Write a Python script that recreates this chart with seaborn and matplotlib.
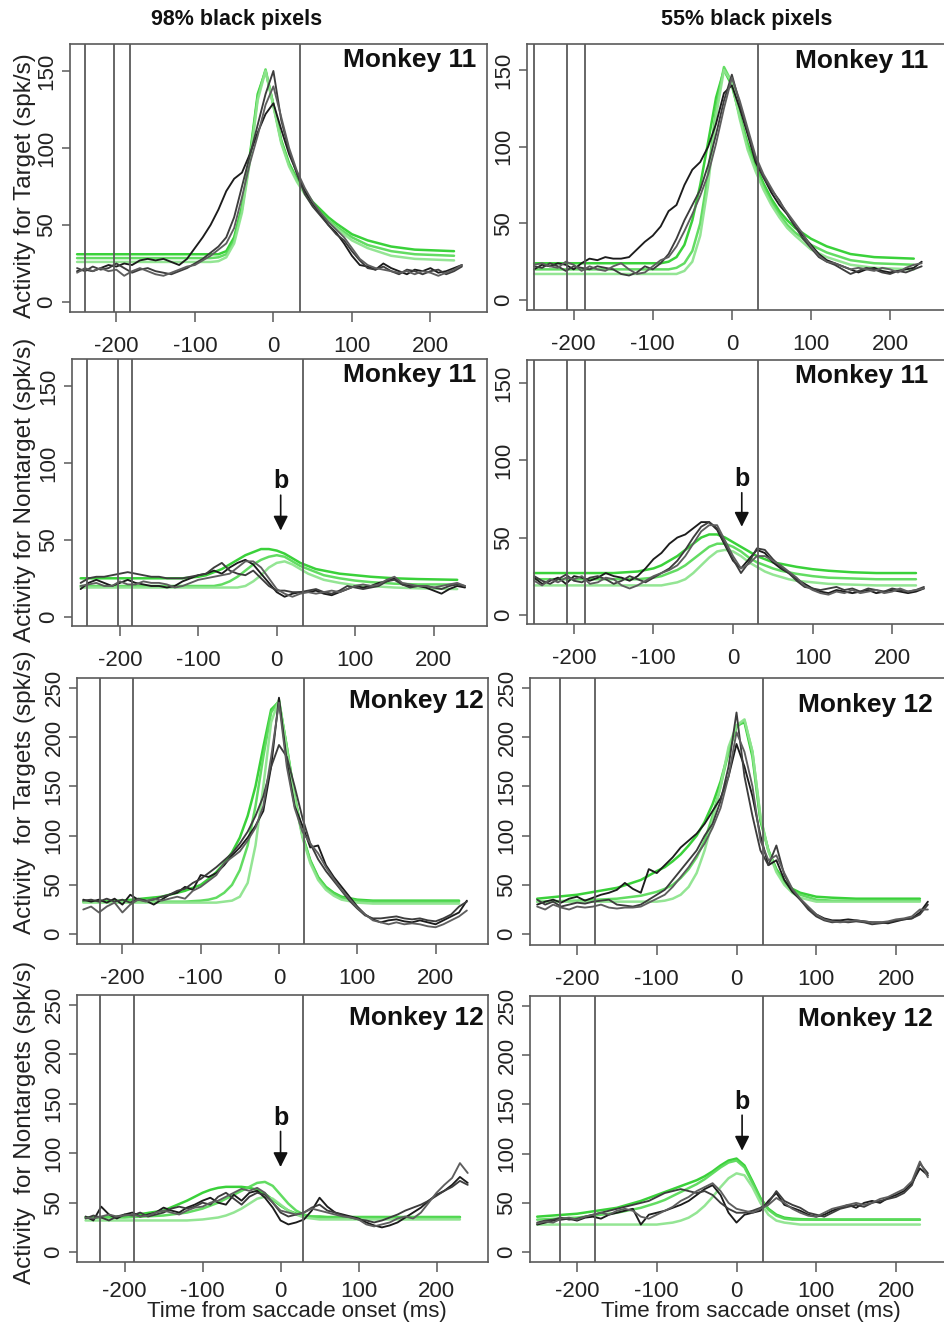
import matplotlib
matplotlib.use("Agg")
import matplotlib.pyplot as plt
import seaborn as sns

sns.set_theme(style="white")
plt.rcParams["font.family"] = ["Liberation Sans", "DejaVu Sans"]
plt.rcParams["axes.unicode_minus"] = False

# ---------------- data ----------------
time_ms = list(range(-250, 250, 10))          # black traces (50 samples)
fit_ms = [-250, -200, -150, -120, -100, -90, -80, -70, -60, -50, -40, -30, -20, -10,
          0, 10, 20, 30, 40, 50, 60, 70, 80, 100, 120, 150, 180, 230]   # green fits

col_titles = ["98% black pixels", "55% black pixels"]
row_ylabels = ["Activity for Target (spk/s)", "Activity for Nontarget (spk/s)",
               "Activity  for Targets (spk/s)", "Activity  for Nontargets (spk/s)"]
row_monkeys = ["Monkey 11", "Monkey 11", "Monkey 12", "Monkey 12"]
xlabel_text = "Time from saccade onset (ms)"
x_ticks = [-200, -100, 0, 100, 200]
y_ticks_m11 = [0, 50, 100, 150]
y_ticks_m12 = [0, 50, 100, 150, 200, 250]

# Panel A: Target, Monkey 11, 98%
a_t1 = [20,21,20,22,24,23,25,24,27,28, 27,28,26,24,28,35,42,50,60,72,
        80,84,96,110,122,129,112,96,84,72, 64,57,50,45,38,30,24,23,21,25,
        22,20,18,21,20,22,19,20,22,24]
a_t2 = [22,20,23,21,22,25,22,19,21,22, 20,19,18,20,22,25,28,32,36,42,
        55,75,95,115,135,150,118,98,83,70, 62,56,50,44,40,33,27,22,21,23,
        20,18,21,20,18,20,21,18,20,23]
a_t3 = [19,22,20,22,20,21,17,20,22,20, 18,17,19,21,23,24,27,30,34,38,
        48,68,90,108,128,140,120,100,85,74, 65,58,52,47,42,35,28,24,22,21,
        20,19,20,18,20,19,17,19,21,24]
a_g1 = [31,31,31,31,31,31,31,31,33,42,62,95,135,150,128,105,90,80,72,65,60,55,51,44,40,36,34,33]
a_g2 = [28.5]*7 + [29,31,40,60,93,133,151,128,104,89,79,71,64,58,53,49,42,37,33,31,30]
a_g3 = [26]*7 + [26.5,29,38,58,91,131,150,127,103,88,78,70,63,57,52,48,40,35,30,28,27]
a_vlines = [-240, -203, -182, 34]

# Panel B: Target, Monkey 11, 55%
b_t1 = [20,23,22,24,23,20,24,27,26,28, 27,27,28,33,38,42,48,58,62,75,
        85,90,100,115,135,140,125,108,90,80, 70,62,56,48,42,36,30,26,24,22,
        20,18,20,21,19,18,19,20,21,25]
b_t2 = [22,21,24,22,19,22,21,20,22,21, 20,17,16,18,22,20,24,30,40,52,
        62,72,88,108,130,147,128,110,92,80, 72,65,56,48,40,34,28,25,23,20,
        17,19,21,20,18,17,19,18,20,22]
b_t3 = [23,24,22,21,25,23,19,22,20,19, 22,24,20,17,18,22,26,28,35,45,
        56,68,82,102,125,145,130,112,94,82, 73,64,57,50,43,35,29,25,24,22,
        20,21,20,19,21,20,18,21,23,24]
b_g1 = [24]*6 + [25,28,36,52,75,103,132,150,140,120,102,88,76,66,58,52,47,40,35,30,28,27]
b_g2 = [20]*7 + [21,24,32,50,82,125,152,142,120,100,86,74,64,56,49,44,36,31,26,24,23]
b_g3 = [17]*8 + [19,25,42,75,120,150,142,118,98,84,72,62,54,47,42,33,28,23,21,20]
b_vlines = [-250, -209, -186, 33]

# Panel C: Nontarget, Monkey 11, 98%
c_t1 = [18,22,24,22,20,22,24,22,21,20, 20,19,20,23,25,27,28,30,28,32,
        35,37,34,28,22,16,13,15,16,16, 17,15,14,16,18,20,19,20,22,23,
        25,21,20,20,19,17,15,18,20,19]
c_t2 = [22,25,26,26,27,28,29,28,27,26, 26,25,25,25,26,27,28,32,35,30,
        28,27,30,25,20,17,17,16,16,17, 18,16,15,17,20,19,18,19,20,23,
        24,21,19,20,20,19,18,20,21,20]
c_t3 = [20,21,22,20,20,23,21,21,23,22, 22,21,19,20,22,24,25,26,27,28,
        32,36,36,32,25,18,15,13,15,16, 15,16,17,16,18,20,21,20,21,24,
        26,22,21,20,20,19,20,21,22,20]
c_g1 = [25]*4 + [26,27,29,31,34,37,40,42,44,44,43,41,38,35,33,31,30,29,28,27,26,25,24.5,24]
c_g2 = [20]*7 + [21,23,26,30,34,37,39,40,39,36,33,31,29,27,26,25,23.5,22.5,21.5,21,21]
c_g3 = [19]*10 + [20,23,27,32,35,36,34,31,28,26,24,23,22,20.5,20,19,18.5,18]
c_vlines = [-242, -202, -184, 33]

# Panel D: Nontarget, Monkey 11, 55%
d_t1 = [24,20,22,24,20,25,24,22,24,27, 25,24,22,25,30,36,40,46,50,52,
        56,60,60,55,45,35,30,36,42,40, 34,30,27,23,20,17,15,14,16,15,
        14,15,16,14,15,16,15,14,15,17]
d_t2 = [25,22,20,23,26,22,21,24,25,23, 20,22,25,23,21,24,27,30,35,42,
        50,57,60,56,46,36,27,34,43,42, 36,31,27,22,18,17,16,17,18,16,
        17,15,17,16,15,17,16,15,16,18]
d_t3 = [22,19,23,21,24,23,25,20,21,24, 23,19,17,19,22,25,27,29,32,38,
        46,54,58,58,48,38,30,33,38,38, 35,32,28,24,19,16,14,13,15,14,
        16,14,15,16,14,15,17,15,16,17]
d_g1 = [27]*3 + [28,30,32,35,38,42,46,50,52,52,50,47,44,41,38,36,34,33,32,31,29.5,28.5,27.5,27,27]
d_g2 = [23]*4 + [24,25,27,29,32,36,40,44,46,46,44,41,37,34,32,30,28.5,27.5,26.5,25,24,23.5,23,23]
d_g3 = [19]*6 + [20,21,23,27,32,37,41,42,41,38,34,31,28,26,24.5,23,22,21,20,19.5,19,19]
d_vlines = [-250, -209, -186, 32]

# Panel E: Targets, Monkey 12, 98%
e_t1 = [35,33,35,32,36,30,40,35,34,30, 35,40,42,48,45,60,58,62,70,80,
        88,98,110,125,170,240,175,130,110,88, 90,70,58,48,38,28,20,15,12,14,
        15,13,12,14,12,10,14,18,22,34]
e_t2 = [34,35,33,36,33,35,32,36,34,35, 38,40,44,46,52,56,62,68,75,82,
        92,104,120,140,170,192,180,150,118,92, 76,64,54,44,34,26,19,16,16,17,
        18,16,15,16,14,13,16,20,28,33]
e_t3 = [25,28,22,28,32,22,30,35,33,36, 34,36,38,36,44,48,54,60,72,78,
        84,95,108,130,180,235,170,128,104,92, 82,68,56,45,36,27,20,14,12,10,
        12,10,11,10,8,7,10,14,18,24]
e_g1 = [33,34,38,44,50,56,63,72,83,98,120,150,190,228,236,190,140,100,75,58,48,42,38,35,34,34,34,34]
e_g2 = [33,33,33,33,34,35,37,42,50,65,90,130,180,225,237,190,140,100,74,57,47,41,37,34,33,33,33,33]
e_g3 = [32,32,32,32,32,32,32,33,34,38,52,90,150,215,238,188,138,98,72,55,45,39,35,32,31,31,31,31]
e_vlines = [-229, -186, 32]

# Panel F: Targets, Monkey 12, 55%
f_t1 = [30,33,35,32,36,38,34,37,40,42, 45,52,46,42,66,62,70,78,88,95,
        102,112,125,138,160,193,170,140,100,70, 75,55,43,35,27,20,16,14,14,15,
        14,13,12,12,11,13,15,16,22,33]
f_t2 = [35,30,33,28,30,32,31,33,34,35, 30,29,28,30,35,40,45,55,65,75,
        85,100,112,135,170,225,160,120,85,70, 90,60,45,35,25,18,14,12,13,12,
        13,12,10,11,12,14,15,16,20,30]
f_t3 = [28,25,30,27,25,28,27,28,30,27, 26,27,27,28,32,36,40,48,58,68,
        80,92,108,128,160,205,185,150,95,75, 80,62,46,36,28,20,15,13,12,13,
        14,13,12,12,13,15,16,18,25,25]
f_g1 = [36,40,47,55,64,68,74,81,90,100,114,132,155,185,212,215,180,115,85,66,54,46,42,38,37,36,36,36]
f_g2 = [33,34,36,39,43,46,50,57,66,78,95,120,150,185,210,217,185,118,85,65,52,44,40,35,34,34,34,34]
f_g3 = [33,33,33,33,33,34,36,40,48,62,85,115,150,190,212,218,185,120,84,63,50,42,37,33,33,33,33,33]
f_vlines = [-222, -178, 33]

# Panel G: Nontargets, Monkey 12, 98%
g_t1 = [36,32,46,38,34,38,40,36,38,40, 45,42,40,45,48,52,55,50,48,58,
        52,60,62,55,45,32,28,30,33,42, 55,46,40,38,36,34,30,27,25,27,
        30,35,40,45,52,58,62,68,76,70]
g_t2 = [34,37,35,32,36,38,37,40,36,38, 40,44,46,44,46,50,48,56,60,54,
        48,56,60,58,50,40,36,38,40,45, 48,42,40,37,35,33,32,30,32,35,
        38,42,45,48,52,57,62,66,72,68]
g_t3 = [35,34,36,38,36,37,38,36,37,40, 42,40,38,42,45,46,50,52,56,60,
        64,62,65,60,50,42,40,38,40,44, 42,40,38,36,35,33,28,26,28,30,
        34,36,34,40,50,60,68,75,90,80]
g_g1 = [35,36,42,52,60,63,65,66,66,66,65,63,59,53,47,42,39,37,36,36] + [35.5]*8
g_g2 = [35,35,37,40,44,47,50,54,58,62,66,70,71,67,58,49,42,38,36,35] + [35]*8
g_g3 = [32,32,32,32,33,34,35,37,40,44,49,54,56,54,48,42,38,35,34,33] + [33]*8
g_vlines = [-231, -188, 29]

# Panel H: Nontargets, Monkey 12, 55%
h_t1 = [28,30,32,33,34,32,35,36,34,38, 40,42,44,28,38,40,42,45,48,52,
        58,64,68,58,40,30,38,40,42,52, 60,48,45,42,38,36,38,42,45,48,
        45,50,52,50,55,58,62,70,85,78]
h_t2 = [30,32,33,35,33,34,36,38,40,42, 44,46,48,50,52,56,60,62,64,62,
        60,62,58,50,44,40,40,42,45,50, 62,52,48,45,40,38,36,40,44,46,
        48,46,50,52,54,56,60,68,90,80]
h_t3 = [29,31,30,34,35,33,36,38,40,38, 42,44,42,36,34,38,42,46,52,56,
        62,66,70,62,50,44,42,40,44,48, 55,50,44,40,37,36,40,44,46,48,
        50,48,50,54,56,60,64,72,92,76]
h_g1 = [36,39,45,52,58,61,64,67,70,73,77,82,88,93,95,88,72,55,44,38,35,34,33.5,33,33,33,33,33]
h_g2 = [33,35,40,45,50,53,57,61,65,69,74,80,86,91,93,86,70,54,43,37,34,33,33,33,33,33,33,33]
h_g3 = [28,28,28,28,28,29,30,32,35,40,47,56,66,75,80,78,66,50,38,32,30,29,28,28,28,28,28,28]
h_vlines = [-222, -178, 33]

# "b" markers: (x, text y, arrow start y, arrow tip y)
c_mark = (5, 88, 79, 56)
d_mark = (11, 88, 79, 57)
g_mark = (0, 136, 122, 86)
h_mark = (7, 152, 139, 103)

# ---------------- layout ----------------
W, H = 944, 1325
fig = plt.figure(figsize=(W / 100, H / 100), dpi=100)
fig.patch.set_facecolor("white")


def rect(l, r, t, b):
    return [l / W, 1 - b / H, (r - l) / W, (b - t) / H]


panels = [
    dict(r=rect(70, 487, 44, 312), t=[a_t1, a_t2, a_t3], g=[a_g1, a_g2, a_g3], v=a_vlines,
         row=0, col=0, xl=(-259, 272), yl=(-6.5, 167.5), mark=None),
    dict(r=rect(527, 947, 44, 310), t=[b_t1, b_t2, b_t3], g=[b_g1, b_g2, b_g3], v=b_vlines,
         row=0, col=1, xl=(-259, 272), yl=(-6.5, 167), mark=None),
    dict(r=rect(72, 487, 359, 626), t=[c_t1, c_t2, c_t3], g=[c_g1, c_g2, c_g3], v=c_vlines,
         row=1, col=0, xl=(-261, 268), yl=(-6, 167.5), mark=c_mark),
    dict(r=rect(527, 947, 360, 624), t=[d_t1, d_t2, d_t3], g=[d_g1, d_g2, d_g3], v=d_vlines,
         row=1, col=1, xl=(-259, 269), yl=(-6, 165), mark=d_mark),
    dict(r=rect(77, 488, 678, 944), t=[e_t1, e_t2, e_t3], g=[e_g1, e_g2, e_g3], v=e_vlines,
         row=2, col=0, xl=(-258, 267), yl=(-10, 260), mark=None),
    dict(r=rect(530, 947, 678, 945), t=[f_t1, f_t2, f_t3], g=[f_g1, f_g2, f_g3], v=f_vlines,
         row=2, col=1, xl=(-259, 264), yl=(-11, 260), mark=None),
    dict(r=rect(77, 488, 995, 1262), t=[g_t1, g_t2, g_t3], g=[g_g1, g_g2, g_g3], v=g_vlines,
         row=3, col=0, xl=(-261, 266), yl=(-10, 260), mark=g_mark),
    dict(r=rect(530, 947, 996, 1262), t=[h_t1, h_t2, h_t3], g=[h_g1, h_g2, h_g3], v=h_vlines,
         row=3, col=1, xl=(-259, 264), yl=(-10, 260), mark=h_mark),
]

black_cols = ["#1c1c1c", "#3d3d3d", "#5e5e5e"]
green_cols = ["#2fcf2f", "#5ada5a", "#8ee48e"]
axis_col = "#5a5a5a"

monkey_pos = {(0, 0): (0.975, 0.94), (0, 1): (0.955, 0.935),
              (1, 0): (0.975, 0.94), (1, 1): (0.955, 0.94),
              (2, 0): (0.99, 0.915), (2, 1): (0.965, 0.90),
              (3, 0): (0.99, 0.915), (3, 1): (0.965, 0.915)}

for p in panels:
    ax = fig.add_axes(p["r"])
    ax.set_facecolor("white")
    for gi, gy in enumerate(p["g"]):
        sns.lineplot(x=fit_ms, y=gy, ax=ax, color=green_cols[gi], linewidth=1.8,
                     legend=False, alpha=0.95)
    for ti, ty in enumerate(p["t"]):
        sns.lineplot(x=time_ms, y=ty, ax=ax, color=black_cols[ti], linewidth=1.35,
                     legend=False)
    for v in p["v"]:
        ax.axvline(v, color=axis_col, lw=1.3, zorder=3)
    ax.set_xlim(*p["xl"])
    ax.set_ylim(*p["yl"])
    ax.set_xticks(x_ticks)
    ax.set_yticks(y_ticks_m11 if p["row"] < 2 else y_ticks_m12)
    ax.set_xlabel("")
    ax.set_ylabel("")
    for s in ax.spines.values():
        s.set_visible(True)
        s.set_color(axis_col)
        s.set_linewidth(1.2)
    xpad = 10 if p["row"] < 3 else 7
    ax.tick_params(axis="x", direction="out", length=7, width=1.1, color=axis_col,
                   labelsize=16, labelcolor="#222222", pad=xpad, bottom=True)
    ax.tick_params(axis="y", direction="out", length=6, width=1.1, color=axis_col,
                   labelsize=16, labelcolor="#222222", pad=3, left=True, labelrotation=90)
    for lab in ax.get_yticklabels():
        lab.set_va("center")
    mx, my = monkey_pos[(p["row"], p["col"])]
    ax.text(mx, my, row_monkeys[p["row"]], transform=ax.transAxes, ha="right", va="center",
            fontsize=19, fontweight="bold", color="#111111")
    if p["mark"] is not None:
        bx, by, a0, a1 = p["mark"]
        ax.text(bx, by, "b", ha="center", va="center", fontsize=18, fontweight="bold",
                color="#111111")
        ax.annotate("", xy=(bx, a1), xytext=(bx, a0),
                    arrowprops=dict(arrowstyle="-|>", color="#111111", lw=1.2,
                                    mutation_scale=22, shrinkA=0, shrinkB=0))

# column titles
fig.text(237 / W, 1 - 19 / H, col_titles[0], ha="center", va="center", fontsize=15.5,
         fontweight="bold", color="#111111")
fig.text(747 / W, 1 - 19 / H, col_titles[1], ha="center", va="center", fontsize=15.5,
         fontweight="bold", color="#111111")

# row y labels
for yc, lab in zip([186, 490, 792, 1122], row_ylabels):
    fig.text(25 / W, 1 - yc / H, lab, rotation=90, ha="center", va="center",
             fontsize=17.5, color="#222222")

# x labels
fig.text(297 / W, 1 - 1312 / H, xlabel_text, ha="center", va="center", fontsize=16,
         color="#222222")
fig.text(751 / W, 1 - 1312 / H, xlabel_text, ha="center", va="center", fontsize=16,
         color="#222222")

fig.savefig("out.png", dpi=100, facecolor="white")
